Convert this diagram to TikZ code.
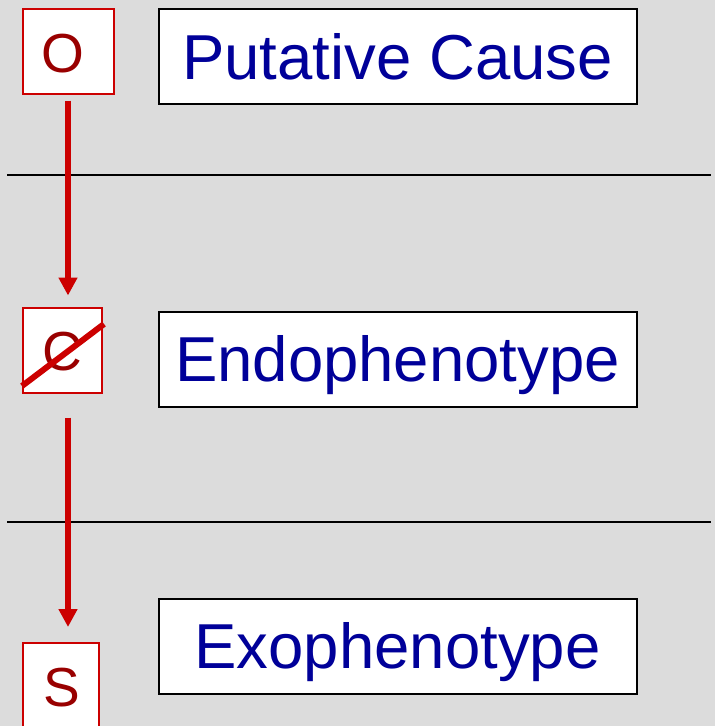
\documentclass[tikz,border=0pt]{standalone}
\usepackage{fontspec}
\setmainfont{Liberation Sans}
\usetikzlibrary{arrows.meta}
\definecolor{bg}{HTML}{DCDCDC}
\definecolor{boxred}{HTML}{CC0000}
\definecolor{letterred}{HTML}{990000}
\definecolor{labelblue}{HTML}{000099}
\begin{document}
\begin{tikzpicture}[x=1pt,y=-1pt,
  varbox/.style={draw=boxred, line width=2pt, fill=white, inner sep=0pt},
  letter/.style={text=letterred, font=\fontsize{55}{55}\selectfont, inner sep=0pt,
                 text height=39pt, text depth=0pt},
  labelbox/.style={draw=black, line width=2pt, fill=white, minimum width=478, minimum height=95, inner sep=0pt,
                   text=labelblue, font=\fontsize{63.5}{63.5}\selectfont, text height=45.5pt, text depth=0pt},
  link/.style={draw=boxred, line width=6.5pt, -{Triangle[length=18pt,width=18pt]}},
  divider/.style={draw=black, line width=1.4pt}
]
\fill[bg] (0,0) rectangle (715,726);
\useasboundingbox (0,0) rectangle (715,726);

% level separators
\coordinate (d1a) at (7,175);  \coordinate (d1b) at (711,175);
\coordinate (d2a) at (7,522);  \coordinate (d2b) at (711,522);
\draw[divider] (d1a) -- (d1b);
\draw[divider] (d2a) -- (d2b);

% variable boxes
\node[varbox, minimum width=91, minimum height=85] (O) at (68,51) {};
\node[letter] (Ol) at (62.5,52.5) {O};
\node[varbox, minimum width=79, minimum height=85] (C) at (62,350) {};
\node[letter] (Cl) at (62,351) {C};
\node[varbox, minimum width=76, minimum height=86] (S) at (60.5,686) {};
\node[letter] (Sl) at (61.5,687) {S};

% strike-through of the endophenotype
\coordinate (x1) at (22,386);
\coordinate (x2) at (104,324);
\draw[boxred, line width=6pt] (x1) -- (x2);

% labels
\node[labelbox] (cause) at (397.5,56.5) {Putative Cause};
\node[labelbox] (endo) at (397.5,359) {Endophenotype};
\node[labelbox] (exo) at (397.5,646) {Exophenotype};

% causal arrows
\draw[link, shorten <=6pt, shorten >=11pt] (O.south) -- (O.south |- C.north);
\draw[link, shorten <=24pt, shorten >=15pt] (O.south |- C.south) -- (O.south |- S.north);
\end{tikzpicture}
\end{document}
